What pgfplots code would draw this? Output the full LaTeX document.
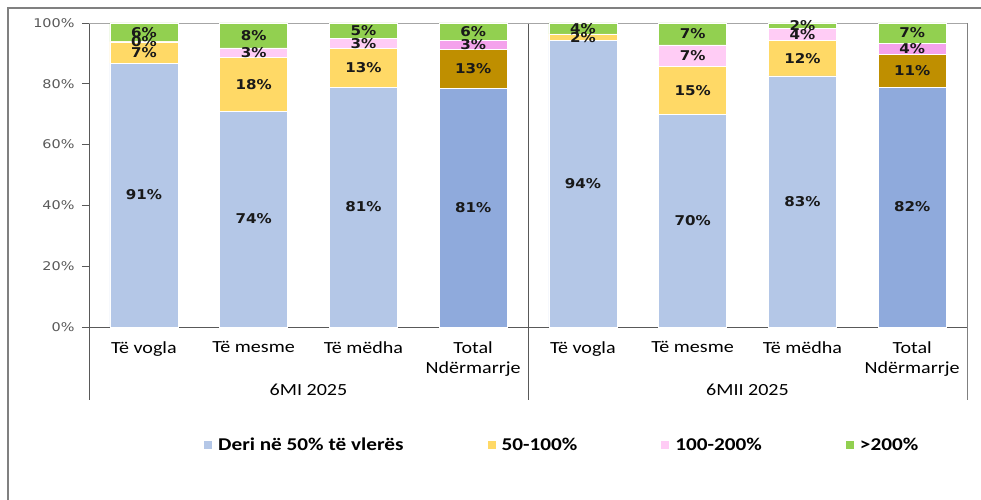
\documentclass[border=0pt]{standalone}
\usepackage{fontspec}
\usepackage{pgfplots}
\usepackage{pgfplotstable}
\pgfplotsset{compat=1.18}
\setmainfont{DejaVu Sans}
\newfontfamily\tickfont[FakeStretch=1.2]{DejaVu Sans}
\newfontfamily\catfont[FakeStretch=1.18]{Carlito}
\newfontfamily\lblfont[FakeStretch=1.12]{DejaVu Sans}

\definecolor{cblue}{HTML}{B4C7E7}
\definecolor{cblueT}{HTML}{8FAADC}
\definecolor{cyel}{HTML}{FFD966}
\definecolor{cbrown}{HTML}{BF8F00}
\definecolor{cpink}{HTML}{FFCCF5}
\definecolor{cpinkT}{HTML}{F4A2EC}
\definecolor{cgreen}{HTML}{92D050}
\definecolor{axgray}{HTML}{595959}

% segment heights (y) as drawn, printed labels (lbl) as in the source chart
\pgfplotstableread{
x y lbl
0 86.8 91\%
1 71.0 74\%
2 78.9 81\%
4 94.2 94\%
5 70.0 70\%
6 82.6 83\%
}\dblue
\pgfplotstableread{
x y lbl
0 7.0 7\%
1 17.8 18\%
2 12.7 13\%
4 2.2 2\%
5 15.6 15\%
6 11.6 12\%
}\dyel
\pgfplotstableread{
x y lbl
0 0.1 0\%
1 3.0 3\%
2 3.4 3\%
4 0.0 {}
5 7.2 7\%
6 4.0 4\%
}\dpink
\pgfplotstableread{
x y lbl
0 6.1 6\%
1 8.2 8\%
2 5.0 5\%
4 3.6 4\%
5 7.2 7\%
6 1.8 2\%
}\dgreen
\pgfplotstableread{
x y lbl
3 78.6 81\%
7 78.9 82\%
}\tblue
\pgfplotstableread{
x y lbl
3 12.7 13\%
7 10.7 11\%
}\tbrown
\pgfplotstableread{
x y lbl
3 3.0 3\%
7 3.8 4\%
}\tpink
\pgfplotstableread{
x y lbl
3 5.7 6\%
7 6.6 7\%
}\tgreen

% common look of both overlaid axes (1bp = 1px of the reference)
\pgfplotsset{
  stackbase/.style={
    ybar stacked, bar width=68bp,
    scale only axis, width=878bp, height=304bp,
    at={(89bp,173bp)}, anchor=south west,
    xmin=-0.5, xmax=7.5, ymin=0, ymax=100,
    enlargelimits=false, clip=false,
    point meta=explicit symbolic,
    nodes near coords={\pgfplotspointmeta},
    every node near coord/.append style={
      anchor=center, text=black!90,
      font=\lblfont\bfseries\fontsize{13.5bp}{15bp}\selectfont},
  },
  seg/.style={fill=#1, draw=white, line width=0.6bp},
}

\begin{document}
\begin{tikzpicture}
% outer frame
\draw[gray, line width=2.2bp] (8bp,0bp) -- (8bp,492bp) -- (981bp,492bp);

\begin{axis}[stackbase,
  axis x line*=bottom, axis y line*=left,
  axis line style={axgray, line width=0.8bp},
  ytick={0,20,40,60,80,100},
  yticklabels={0\%,20\%,40\%,60\%,80\%,100\%},
  yticklabel style={font=\tickfont\fontsize{12bp}{14bp}\selectfont, text=axgray, xshift=-4bp},
  tick align=outside, major tick length=7bp,
  ytick style={axgray, line width=0.8bp},
  xtick={0,...,7},
  xticklabels={Të vogla,Të mesme,Të mëdha,Total\\Ndërmarrje,Të vogla,Të mesme,Të mëdha,Total\\Ndërmarrje},
  xtick style={draw=none},
  xticklabel style={anchor=north, align=center, inner sep=0pt, yshift=-7bp,
    font=\catfont\fontsize{17bp}{20bp}\selectfont},
  legend columns=4,
  legend style={at={(0.539,-0.388)}, anchor=center, draw=none, fill=none,
    font=\catfont\bfseries\fontsize{18bp}{20bp}\selectfont,
    /tikz/every even column/.append style={column sep=82bp}},
  legend image code/.code={\fill[#1, draw=none] (0bp,-4bp) rectangle (8bp,4bp);},
]
\addplot[seg=cblue] table[x=x, y=y, meta=lbl] {\dblue};
\addlegendentry{\hspace{4bp}Deri në 50\% të vlerës}
\addplot[seg=cyel] table[x=x, y=y, meta=lbl] {\dyel};
\addlegendentry{\hspace{4bp}50-100\%}
\addplot[seg=cpink] table[x=x, y=y, meta=lbl] {\dpink};
\addlegendentry{\hspace{4bp}100-200\%}
\addplot[seg=cgreen] table[x=x, y=y, meta=lbl] {\dgreen};
\addlegendentry{\hspace{4bp}>200\%}

% borders, group separators and group names
\draw[black!35, line width=0.8bp] (axis cs:-0.5,100) -- (axis cs:7.5,100);
\draw[gray, line width=0.8bp] (axis cs:7.5,100) -- (axis cs:7.5,-24);
\draw[axgray, line width=0.8bp] (axis cs:3.5,100) -- (axis cs:3.5,-24);
\draw[axgray, line width=0.8bp] (axis cs:-0.5,0) -- (axis cs:-0.5,-24);
\node[font=\catfont\fontsize{17bp}{20bp}\selectfont] at (axis cs:1.5,-20.7) {6MI 2025};
\node[font=\catfont\fontsize{17bp}{20bp}\selectfont] at (axis cs:5.5,-20.7) {6MII 2025};
\end{axis}

% the two "Total" bars use darker shades
\begin{axis}[stackbase, hide axis]
\addplot[seg=cblueT] table[x=x, y=y, meta=lbl] {\tblue};
\addplot[seg=cbrown] table[x=x, y=y, meta=lbl] {\tbrown};
\addplot[seg=cpinkT] table[x=x, y=y, meta=lbl] {\tpink};
\addplot[seg=cgreen] table[x=x, y=y, meta=lbl] {\tgreen};
\end{axis}

\pgfresetboundingbox
\path (0bp,0bp) rectangle (981bp,500bp);
\end{tikzpicture}
\end{document}
